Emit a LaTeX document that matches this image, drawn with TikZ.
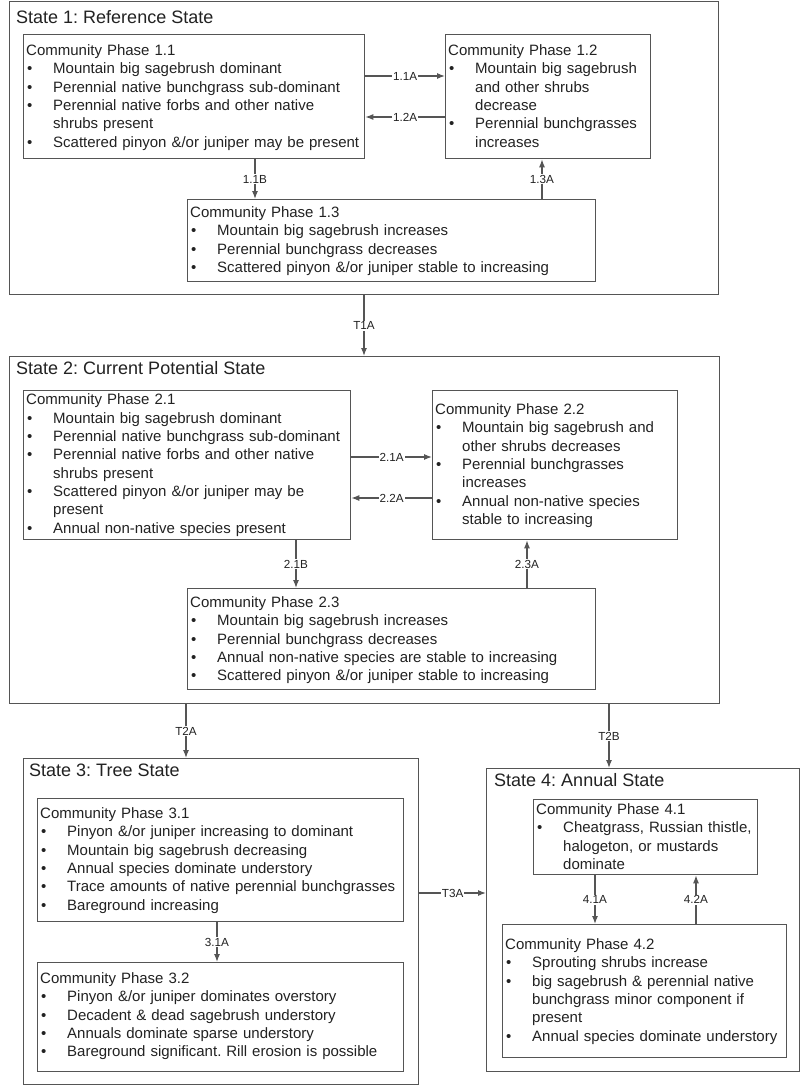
\documentclass[tikz,border=0pt]{standalone}
\usepackage{fontspec}
\setmainfont{Liberation Sans}
\usetikzlibrary{arrows.meta}
\frenchspacing
\definecolor{linegray}{HTML}{555555}
\definecolor{txtgray}{HTML}{222222}
\newcommand\bul{\makebox[27pt][l]{\hspace{1pt}\textbullet}}
\newcommand\cont{\hspace*{27pt}}
\newcommand\ptfont{\fontsize{15pt}{18.3pt}\selectfont}
\newcommand\hdfont{\fontsize{18pt}{21pt}\selectfont}
\newcommand\lbfont{\fontsize{11.7pt}{13pt}\selectfont}
\tikzset{
  statebox/.style={draw=linegray, line width=1.4pt, inner sep=0, anchor=north west},
  phasebox/.style={draw=linegray, line width=1.3pt, inner sep=0, anchor=north west, fill=white},
  ptext/.style={anchor=north west, inner sep=0, text width=400pt, align=left, font=\ptfont, text=txtgray},
  hdtext/.style={anchor=west, inner sep=0, font=\hdfont, text=txtgray},
  conn/.style={draw=linegray, line width=1.2pt, -{Latex[length=8pt,width=6pt]}},
  lbl/.style={fill=white, inner sep=1pt, font=\lbfont, text=txtgray}
}
\begin{document}
\begin{tikzpicture}[x=1pt,y=-1pt]
\useasboundingbox (0,0) rectangle (800,1085);
\fill[white] (0,0) rectangle (800,1085);

% ---------- State boxes ----------
\node[statebox, minimum width=709pt, minimum height=293pt] (s1) at (9,1) {};
\node[statebox, minimum width=710pt, minimum height=347pt] (s2) at (9,356) {};
\node[statebox, minimum width=395pt, minimum height=326pt] (s3) at (23,758) {};
\node[statebox, minimum width=313pt, minimum height=303pt] (s4) at (486,768) {};

\node[hdtext] (h1) at (16,17) {State 1: Reference State};
\node[hdtext] (h2) at (16,368) {State 2: Current Potential State};
\node[hdtext] (h3) at (29,770) {State 3: Tree State};
\node[hdtext] (h4) at (494,780) {State 4: Annual State};

% ---------- Phase boxes ----------
\node[phasebox, minimum width=341pt, minimum height=124pt] (p11) at (23,34) {};
\node[phasebox, minimum width=205pt, minimum height=124pt] (p12) at (445,34) {};
\node[phasebox, minimum width=408pt, minimum height=82pt] (p13) at (187,199) {};

\node[phasebox, minimum width=327pt, minimum height=149pt] (p21) at (23,390) {};
\node[phasebox, minimum width=245pt, minimum height=149pt] (p22) at (432,390) {};
\node[phasebox, minimum width=408pt, minimum height=101pt] (p23) at (187,588) {};

\node[phasebox, minimum width=366pt, minimum height=123pt] (p31) at (37,798) {};
\node[phasebox, minimum width=366pt, minimum height=109pt] (p32) at (37,962) {};

\node[phasebox, minimum width=224pt, minimum height=75pt] (p41) at (533,799) {};
\node[phasebox, minimum width=284pt, minimum height=133pt] (p42) at (502,924) {};

% ---------- Phase texts ----------
\node[ptext] (t11) at (26,42.6) {\strut Community Phase 1.1\\
\bul Mountain big sagebrush dominant\\
\bul Perennial native bunchgrass sub-dominant\\
\bul Perennial native forbs and other native\\
\cont shrubs present\\
\bul Scattered pinyon \&/or juniper may be present};

\node[ptext] (t12) at (448,42.6) {\strut Community Phase 1.2\\
\bul Mountain big sagebrush\\
\cont and other shrubs\\
\cont decrease\\
\bul Perennial bunchgrasses\\
\cont increases};

\node[ptext] (t13) at (190,204.6) {\strut Community Phase 1.3\\
\bul Mountain big sagebrush increases\\
\bul Perennial bunchgrass decreases\\
\bul Scattered pinyon \&/or juniper stable to increasing};

\node[ptext] (t21) at (26,391.9) {\strut Community Phase 2.1\\
\bul Mountain big sagebrush dominant\\
\bul Perennial native bunchgrass sub-dominant\\
\bul Perennial native forbs and other native\\
\cont shrubs present\\
\bul Scattered pinyon \&/or juniper may be\\
\cont present\\
\bul Annual non-native species present};

\node[ptext] (t22) at (435,401.6) {\strut Community Phase 2.2\\
\bul Mountain big sagebrush and\\
\cont other shrubs decreases\\
\bul Perennial bunchgrasses\\
\cont increases\\
\bul Annual non-native species\\
\cont stable to increasing};

\node[ptext] (t23) at (190,594.6) {\strut Community Phase 2.3\\
\bul Mountain big sagebrush increases\\
\bul Perennial bunchgrass decreases\\
\bul Annual non-native species are stable to increasing\\
\bul Scattered pinyon \&/or juniper stable to increasing};

\node[ptext] (t31) at (40,805.6) {\strut Community Phase 3.1\\
\bul Pinyon \&/or juniper increasing to dominant\\
\bul Mountain big sagebrush decreasing\\
\bul Annual species dominate understory\\
\bul Trace amounts of native perennial bunchgrasses\\
\bul Bareground increasing};

\node[ptext] (t32) at (40,970.6) {\strut Community Phase 3.2\\
\bul Pinyon \&/or juniper dominates overstory\\
\bul Decadent \& dead sagebrush understory\\
\bul Annuals dominate sparse understory\\
\bul Bareground significant. Rill erosion is possible};

\node[ptext] (t41) at (536,801.6) {\strut Community Phase 4.1\\
\bul Cheatgrass, Russian thistle,\\
\cont halogeton, or mustards\\
\cont dominate};

\node[ptext] (t42) at (505,936.6) {\strut Community Phase 4.2\\
\bul Sprouting shrubs increase\\
\bul big sagebrush \& perennial native\\
\cont bunchgrass minor component if\\
\cont present\\
\bul Annual species dominate understory};

% ---------- Connectors ----------
\draw[conn] (p11.east |- 0,76) -- node[lbl] {1.1A} (p12.west |- 0,76);
\draw[conn] (p12.west |- 0,117) -- node[lbl] {1.2A} (p11.east |- 0,117);
\draw[conn] (p11.south -| 255,0) -- node[lbl] {1.1B} (p13.north -| 255,0);
\draw[conn] (p13.north -| 542,0) -- node[lbl] {1.3A} (p12.south -| 542,0);
\draw[conn] (s1.south -| 364,0) -- node[lbl] {T1A} (s2.north -| 364,0);

\draw[conn] (p21.east |- 0,457) -- node[lbl] {2.1A} (p22.west |- 0,457);
\draw[conn] (p22.west |- 0,498) -- node[lbl] {2.2A} (p21.east |- 0,498);
\draw[conn] (p21.south -| 296,0) -- node[lbl] {2.1B} (p23.north -| 296,0);
\draw[conn] (p23.north -| 527,0) -- node[lbl] {2.3A} (p22.south -| 527,0);
\draw[conn] (s2.south -| 186,0) -- node[lbl] {T2A} (s3.north -| 186,0);
\draw[conn] (s2.south -| 609,0) -- node[lbl] {T2B} (s4.north -| 609,0);

\draw[conn] (s3.east |- 0,893) -- node[lbl] {T3A} (s4.west |- 0,893);
\draw[conn] (p31.south -| 217,0) -- node[lbl] {3.1A} (p32.north -| 217,0);
\draw[conn] (p41.south -| 595,0) -- node[lbl] {4.1A} (p42.north -| 595,0);
\draw[conn] (p42.north -| 696,0) -- node[lbl] {4.2A} (p41.south -| 696,0);
\end{tikzpicture}
\end{document}
